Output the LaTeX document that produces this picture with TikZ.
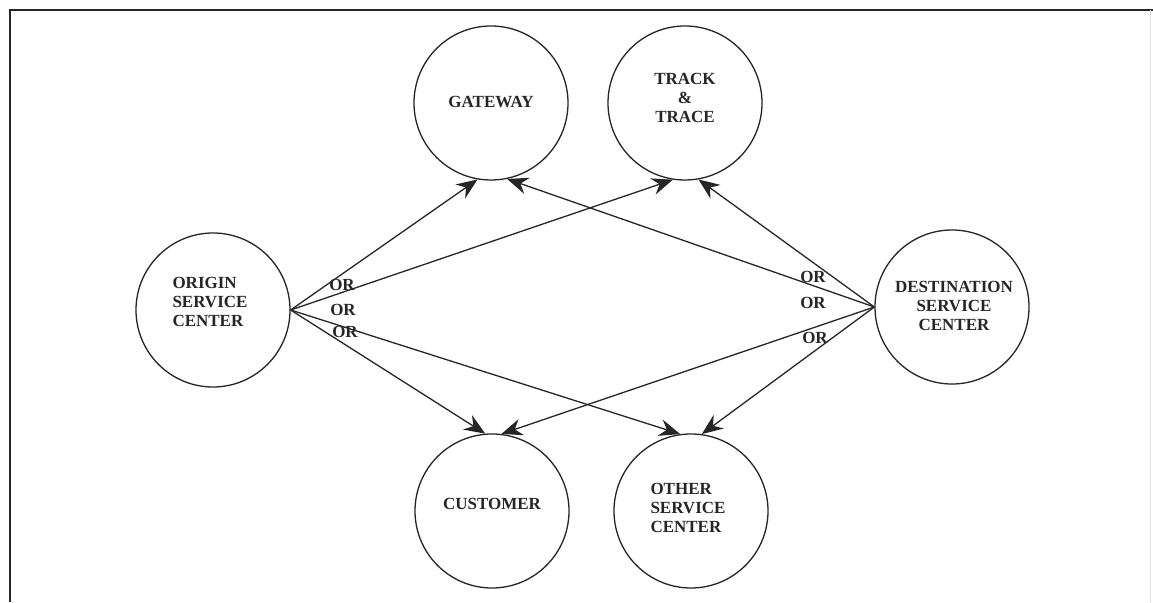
\documentclass[tikz,border=0pt]{standalone}
\usepackage{fontspec}
\setmainfont{Liberation Serif}
\usetikzlibrary{arrows.meta}
\begin{document}
\begin{tikzpicture}[x=1pt,y=1pt,
  bubble/.style={circle,draw=black!85,line width=1.3pt,minimum size=154pt,inner sep=0pt},
  label/.style={font=\bfseries\fontsize{17}{19}\selectfont,text=black!85,inner sep=0pt},
  orlab/.style={font=\bfseries\fontsize{17}{19}\selectfont,text=black!85,inner sep=0pt},
  link/.style={draw=black!85,line width=1.3pt,-{Stealth[length=21pt,width=17pt,inset=7pt]}}]
\useasboundingbox (0,0) rectangle (1153,602);
\fill[white] (0,0) rectangle (1153,602);
% frame
\draw[line width=2pt,black!85] (10,0) -- (10,592) -- (1153,592);
\draw[line width=0.6pt,black!12] (1150,592) -- (1150,0);
% nodes
\node[bubble] (gw) at (491,499) {};
\node[label] (gwt) at (491,500) {GATEWAY};
\node[bubble] (tt) at (685,499) {};
\node[label,align=center] (ttt) at (685,504) {TRACK\\\&\\TRACE};
\node[bubble] (orig) at (213,292) {};
\node[label,align=left] (origt) at (210,300) {ORIGIN\\SERVICE\\CENTER};
\node[bubble] (dest) at (952,295) {};
\node[label,align=center] (destt) at (954,296) {DESTINATION\\SERVICE\\CENTER};
\node[bubble] (cust) at (492,91) {};
\node[label] (custt) at (492,98) {CUSTOMER};
\node[bubble] (osc) at (691,91) {};
\node[label,align=left] (osct) at (688,94) {OTHER\\SERVICE\\CENTER};
% connectors
\path[link] (orig.east) -- (gw.260);
\path[link] (orig.east) -- (tt.261);
\path[link] (orig.east) -- (cust.95);
\path[link] (orig.east) -- (osc.98);
\path[link] (dest.west) -- (gw.282);
\path[link] (dest.west) -- (tt.280);
\path[link] (dest.west) -- (cust.83);
\path[link] (dest.west) -- (osc.82);
% OR labels
\node[orlab] (or1) at (342,317) {OR};
\node[orlab] (or2) at (343,292) {OR};
\node[orlab] (or3) at (345,270) {OR};
\node[orlab] (or4) at (813,325) {OR};
\node[orlab] (or5) at (813,299) {OR};
\node[orlab] (or6) at (815,264) {OR};
\end{tikzpicture}
\end{document}
